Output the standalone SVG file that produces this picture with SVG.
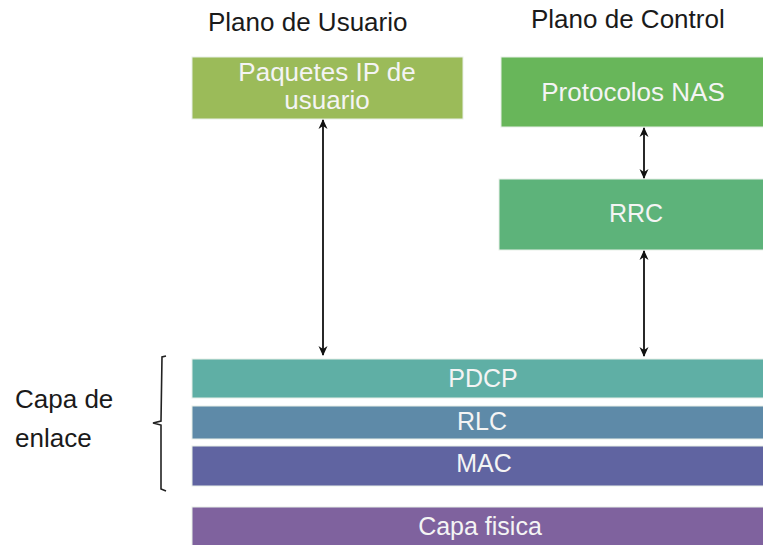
<svg xmlns="http://www.w3.org/2000/svg" width="763" height="545" viewBox="0 0 763 545">
<defs>
<marker id="ah" viewBox="0 0 10 10" refX="9" refY="5" markerWidth="10" markerHeight="10" orient="auto-start-reverse" markerUnits="userSpaceOnUse">
<path d="M0,0.5 L10,5 L0,9.5 L3,5 Z" fill="#111"/>
</marker>
<style>
.lbl{font-family:"Liberation Sans",Arial,sans-serif;fill:#1a1a1a;font-size:26px}
.in{font-family:"Liberation Sans",Arial,sans-serif;fill:#f4f4f4;font-size:26px;text-anchor:middle}
.bar{font-size:25px}
.box{stroke:#e8efe8;stroke-width:1}
.con{stroke:#111;stroke-width:1.8;fill:none}
</style>
</defs>
<rect width="763" height="545" fill="#ffffff"/>
<text class="lbl" x="208" y="31">Plano de Usuario</text>
<text class="lbl" x="531" y="28">Plano de Control</text>
<g id="paquetes">
<rect class="box" x="192" y="57" width="271" height="62" fill="#9BBB59"/>
<text class="in" x="327" y="81">Paquetes IP de</text>
<text class="in" x="327" y="109">usuario</text>
</g>
<g id="nas">
<rect class="box" x="501" y="57" width="263" height="70" fill="#68B65A"/>
<text class="in" x="633" y="101">Protocolos NAS</text>
</g>
<g id="rrc">
<rect class="box" x="499" y="179" width="265" height="71" fill="#5DB37A"/>
<text class="in bar" x="636" y="222">RRC</text>
</g>
<g id="pdcp">
<rect class="box" x="192" y="359" width="572" height="39" fill="#5FAFA5"/>
<text class="in bar" x="483" y="387">PDCP</text>
</g>
<g id="rlc">
<rect class="box" x="192" y="406" width="572" height="33" fill="#5E8AA8"/>
<text class="in bar" x="482" y="430">RLC</text>
</g>
<g id="mac">
<rect class="box" x="192" y="446" width="572" height="40" fill="#6064A1"/>
<text class="in bar" x="484" y="472">MAC</text>
</g>
<g id="fisica">
<rect class="box" x="192" y="507" width="572" height="39" fill="#7F629E"/>
<text class="in bar" x="480" y="535">Capa fisica</text>
</g>
<g id="enlace">
<path d="M166,356 L162,357 L161,421 L153,423 L161,425 L161,489 L166,491" fill="none" stroke="#222" stroke-width="1.6"/>
<text class="lbl" x="15" y="408">Capa de</text>
<text class="lbl" x="15" y="447">enlace</text>
</g>
<g id="connectors">
<line class="con" x1="323" y1="120" x2="323" y2="355" marker-start="url(#ah)" marker-end="url(#ah)"/>
<line class="con" x1="644" y1="128" x2="644" y2="178" marker-start="url(#ah)" marker-end="url(#ah)"/>
<line class="con" x1="644" y1="251" x2="644" y2="356" marker-start="url(#ah)" marker-end="url(#ah)"/>
</g>
</svg>
